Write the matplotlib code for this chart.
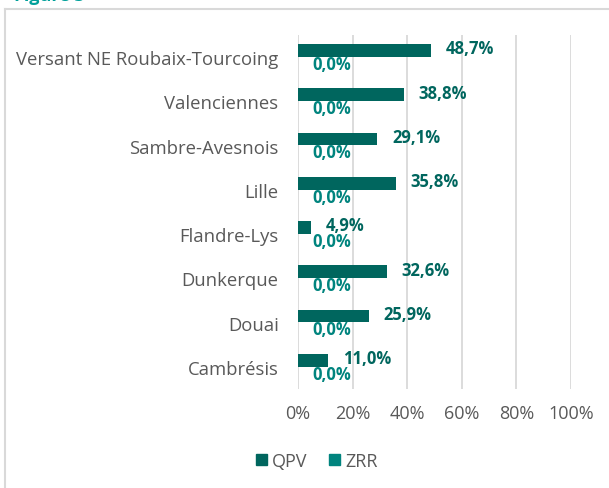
import matplotlib
matplotlib.use("Agg")
import matplotlib.pyplot as plt
from matplotlib.lines import Line2D
import numpy as np

plt.rcParams['font.family'] = ['Open Sans', 'DejaVu Sans']

categories = ["Versant NE Roubaix-Tourcoing", "Valenciennes", "Sambre-Avesnois",
              "Lille", "Flandre-Lys", "Dunkerque", "Douai", "Cambrésis"]
qpv = [48.7, 38.8, 29.1, 35.8, 4.9, 32.6, 25.9, 11.0]
zrr = [0.0, 0.0, 0.0, 0.0, 0.0, 0.0, 0.0, 0.0]
xticks = [0, 20, 40, 60, 80, 100]
xticklabels = ["0%", "20%", "40%", "60%", "80%", "100%"]
series_names = ["QPV", "ZRR"]

c_qpv = "#00665E"
c_zrr = "#00847E"
c_grid = "#D9D9D9"
c_text = "#595959"

W, H = 609, 489
fig = plt.figure(figsize=(W/100, H/100), dpi=100)

# outer border (top and left visible)
fig.add_artist(Line2D([5/W, 5/W], [0, 1 - 10/H], transform=fig.transFigure, color=c_grid, lw=1.5))
fig.add_artist(Line2D([5/W, 1], [1 - 10/H, 1 - 10/H], transform=fig.transFigure, color=c_grid, lw=1.5))
# cropped title at top
fig.text(14/W, 1 - 1/H, "Figure 3", color="#00A09A", fontsize=13, fontweight="bold",
         va="baseline", ha="left")

ax = fig.add_axes([298/W, 1 - 390/H, (571 - 298)/W, (390 - 36)/H])
n = len(categories)
y = np.arange(n)
h = 0.29
off = 0.15
ax.barh(y - off, qpv, height=h, color=c_qpv, label=series_names[0], zorder=3)
ax.barh(y + off, zrr, height=h, color=c_zrr, label=series_names[1], zorder=3)

for yi, v in zip(y, qpv):
    ax.annotate(f"{v:.1f}%".replace(".", ","), (v, yi - off), xytext=(10.5, 1.5),
                textcoords="offset points", ha="left", va="center",
                color=c_qpv, fontsize=12, fontweight="bold", zorder=4)
for yi, v in zip(y, zrr):
    ax.annotate(f"{v:.1f}%".replace(".", ","), (v, yi + off), xytext=(10, 0),
                textcoords="offset points", ha="left", va="center",
                color=c_zrr, fontsize=12, fontweight="bold", zorder=4)

ax.set_xlim(0, 100)
ax.set_ylim(n - 0.5, -0.5)
ax.set_xticks(xticks)
ax.set_xticklabels(xticklabels, color=c_text, fontsize=13)
ax.set_yticks(y)
ax.set_yticklabels(categories, color=c_text, fontsize=13.3)
ax.tick_params(axis="both", length=0)
ax.tick_params(axis="y", pad=14)
ax.tick_params(axis="x", pad=11)
ax.grid(axis="x", color=c_grid, lw=1.3, zorder=0)
for s in ax.spines.values():
    s.set_visible(False)

handles = [plt.Rectangle((0, 0), 1, 1, color=c_qpv), plt.Rectangle((0, 0), 1, 1, color=c_zrr)]
fig.legend(handles, series_names, loc="center", bbox_to_anchor=(317/W, 1 - 462/H),
           ncol=2, frameon=False, fontsize=13, handlelength=0.6, handleheight=0.6,
           handletextpad=0.3, columnspacing=1.2, labelcolor=c_text)

fig.savefig("out.png", dpi=100)
